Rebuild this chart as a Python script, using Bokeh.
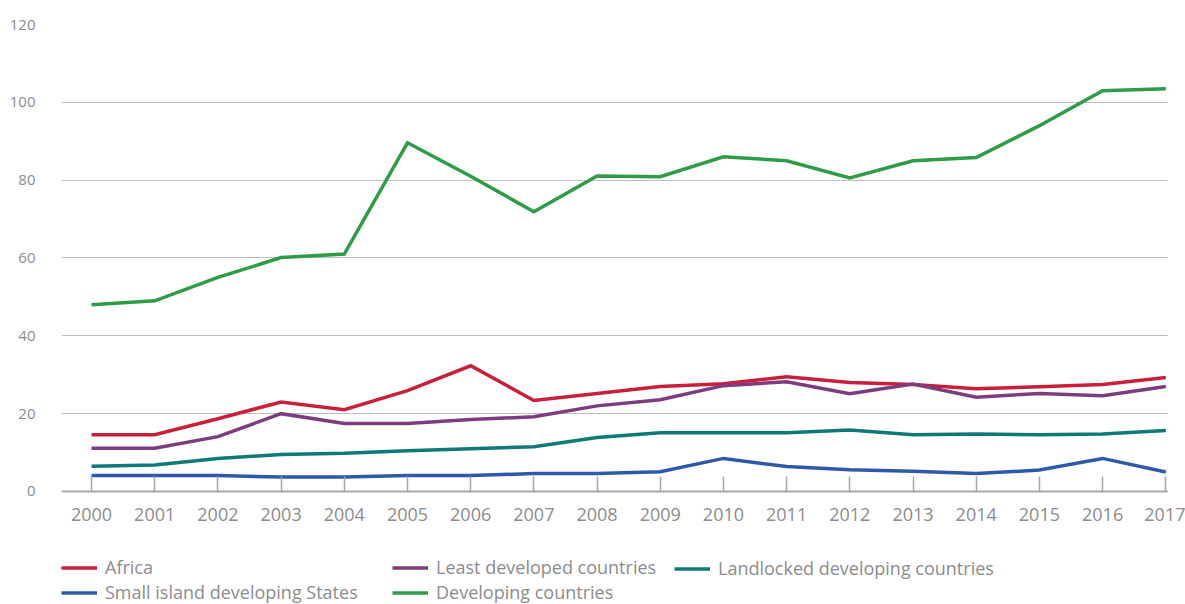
from bokeh.plotting import figure
from bokeh.models import FixedTicker, Legend, LegendItem
from bokeh.embed import file_html
from bokeh.resources import INLINE

years = list(range(2000, 2018))
africa = [14.6, 14.6, 18.7, 23.0, 21.0, 25.9, 32.3, 23.4, 25.2, 27.0, 27.7, 29.5, 28.0, 27.5, 26.4, 26.9, 27.5, 29.3]
ldc = [11.1, 11.1, 14.1, 20.0, 17.5, 17.5, 18.5, 19.2, 22.0, 23.6, 27.2, 28.2, 25.1, 27.6, 24.2, 25.2, 24.6, 27.0]
lldc = [6.5, 6.8, 8.5, 9.5, 9.8, 10.5, 11.0, 11.5, 13.9, 15.1, 15.1, 15.1, 15.8, 14.6, 14.8, 14.6, 14.8, 15.7]
sids = [4.1, 4.1, 4.1, 3.7, 3.7, 4.1, 4.1, 4.6, 4.6, 5.1, 8.5, 6.4, 5.6, 5.2, 4.6, 5.5, 8.5, 5.0]
developing = [48.0, 49.0, 55.0, 60.1, 61.0, 89.6, 81.0, 71.9, 81.1, 80.9, 86.0, 85.0, 80.6, 85.0, 85.8, 94.0, 103.0, 103.5]

names = ["Africa", "Least developed countries", "Landlocked developing countries",
         "Small island developing States", "Developing countries"]
series = [africa, ldc, lldc, sids, developing]
colors = ["#C8203A", "#7D3C7E", "#0E7A78", "#2C5AA8", "#2E9B47"]
draw_order = [4, 0, 1, 2, 3]
legend_columns = [[0, 3], [1, 4], [2]]
legend_x = [0, 331, 613]
legend_y = [0, 0, 24]

FONT = "Open Sans"
GREY = "#8c8c8c"
yticks = [0, 20, 40, 60, 80, 100, 120]
x_lo, x_hi = 1999.525, 2017.027

p = figure(width=1185, height=604, output_backend="svg", toolbar_location=None,
           x_range=(x_lo, 2017.312), y_range=(-29.04, 120),
           min_border_left=61, min_border_right=0, min_border_top=24, min_border_bottom=0)
p.outline_line_color = None
p.background_fill_color = "white"
p.border_fill_color = "white"

p.xgrid.visible = False
p.ygrid.grid_line_color = "#bdbdbd"
p.ygrid.grid_line_width = 1.2
p.ygrid.ticker = FixedTicker(ticks=yticks)
p.ygrid.cross_bounds = (x_lo, x_hi)

p.yaxis.ticker = FixedTicker(ticks=yticks)
p.yaxis.axis_line_color = None
p.yaxis.major_tick_line_color = None
p.yaxis.major_tick_out = 0
p.yaxis.major_tick_in = 0
p.yaxis.minor_tick_line_color = None
p.yaxis.major_label_standoff = 26
p.yaxis.major_label_text_font = FONT
p.yaxis.major_label_text_font_size = "15px"
p.yaxis.major_label_text_color = GREY

p.xaxis.fixed_location = 0
p.xaxis.bounds = (x_lo, x_hi)
p.xaxis.ticker = FixedTicker(ticks=years)
p.xaxis.axis_line_color = "#a6a6a6"
p.xaxis.axis_line_width = 2
p.xaxis.major_tick_line_color = "#a6a6a6"
p.xaxis.major_tick_line_width = 1.5
p.xaxis.major_tick_in = 15
p.xaxis.major_tick_out = 0
p.xaxis.minor_tick_line_color = None
p.xaxis.major_label_standoff = 17
p.xaxis.major_label_text_font = FONT
p.xaxis.major_label_text_font_size = "18px"
p.xaxis.major_label_text_color = GREY

renderers = {}
for i in draw_order:
    r = p.line(years, series[i], line_color=colors[i], line_width=3.5, line_join="miter")
    renderers[i] = r

for col, lx, ly in zip(legend_columns, legend_x, legend_y):
    items = [LegendItem(label=names[i], renderers=[renderers[i]]) for i in col]
    lg = Legend(items=items, orientation="vertical",
                location=(lx, ly), margin=0, padding=0, spacing=1,
                glyph_width=36, glyph_height=21, label_standoff=8,
                label_text_font=FONT, label_text_font_size="18px",
                label_text_color=GREY, label_height=21,
                border_line_color=None, background_fill_alpha=0)
    lg.label_text_baseline = "middle"
    p.add_layout(lg, "center")

open("out.html", "w").write(file_html(p, INLINE))
